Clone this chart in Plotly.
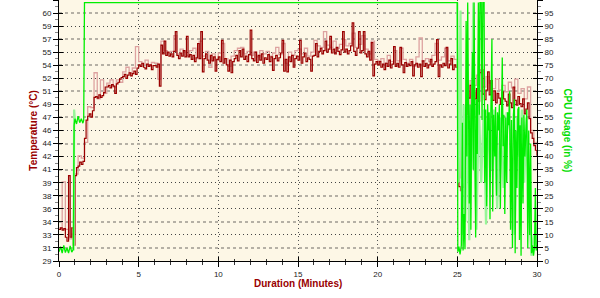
import numpy as np
import plotly.graph_objects as go

# ---------------- data ----------------
# Temperature (dark series), one value every 0.1 minute from 0.0 to 30.0
temp_dark = [
    33.0, 33.2, 32.9, 33.1, 32.0, 31.5, 39.8, 32.0, 33.2, 31.0,
    39.8, 40.8, 41.0, 41.5, 41.2, 41.6, 44.5, 46.8, 47.3, 47.6,
    47.2, 48.0, 49.7, 49.8, 49.6, 50.0, 49.7, 49.9, 50.3, 51.0,
    51.0, 51.2, 50.9, 51.3, 51.1, 50.2, 51.4, 51.6, 52.0, 52.2,
    52.3, 52.6, 52.1, 52.5, 52.8, 52.4, 52.7, 53.0, 52.6, 53.4,
    53.8, 53.6, 54.0, 53.5, 53.3, 53.9, 53.6, 53.8, 53.2, 53.7,
    53.7, 53.5, 53.9, 51.1, 56.3, 55.2, 56.8, 55.0, 55.4, 54.9,
    55.2, 54.8, 55.5, 58.0, 55.0, 54.6, 55.3, 54.9, 55.6, 54.8,
    57.4, 54.8, 55.1, 54.5, 55.0, 54.2, 54.7, 56.5, 54.6, 58.0,
    52.9, 54.6, 55.2, 54.4, 54.0, 55.0, 54.3, 54.8, 53.0, 54.5,
    54.8, 54.2, 56.9, 54.0, 54.6, 53.8, 53.0, 54.4, 52.8, 54.2,
    54.6, 55.0, 54.3, 55.6, 54.8, 55.8, 54.5, 54.9, 54.2, 55.1,
    58.2, 54.6, 54.3, 55.4, 54.1, 55.0, 54.4, 55.2, 54.0, 54.7,
    54.5, 55.1, 54.2, 54.8, 53.1, 54.6, 55.0, 54.3, 54.7, 55.3,
    56.9, 53.0, 54.5, 52.9, 54.8, 54.2, 55.0, 53.5, 54.6, 54.9,
    54.4, 56.9, 54.0, 54.8, 55.3, 54.2, 54.7, 54.5, 53.0, 54.9,
    55.0, 56.5, 54.8, 55.5, 55.9, 55.2, 55.6, 56.8, 55.4, 55.8,
    57.4, 55.3, 55.8, 55.2, 56.0, 55.5, 55.1, 55.7, 58.0, 55.4,
    55.8, 55.2, 55.6, 56.2, 59.1, 55.5, 55.0, 55.9, 58.0, 55.3,
    55.6, 58.0, 55.2, 54.8, 55.5, 54.4, 56.6, 52.4, 53.9, 54.2,
    53.8, 54.2, 53.5, 53.9, 53.2, 54.0, 53.6, 54.4, 53.4, 53.9,
    56.1, 53.6, 54.0, 53.5, 56.0, 53.8, 52.8, 54.1, 53.6, 53.9,
    53.7, 54.2, 52.4, 53.8, 54.0, 53.5, 53.9, 52.3, 54.3, 53.6,
    54.0, 53.4, 53.8, 54.5, 53.6, 53.9, 54.2, 57.0, 52.3, 53.8,
    53.5, 54.0, 53.7, 56.0, 53.4, 53.9, 54.6, 53.2, 53.8, 53.5,
    53.6, 38.4, 37.9, 39.0, 38.3, 47.5, 50.4, 49.6, 51.2, 49.8,
    50.3, 49.5, 50.8, 49.2, 52.8, 53.2, 50.1, 49.4, 50.6, 52.9,
    50.0, 51.8, 49.3, 50.5, 49.0, 50.2, 49.6, 48.8, 50.4, 49.5,
    49.2, 48.6, 50.1, 49.0, 48.4, 51.0, 49.3, 48.7, 49.8, 48.9,
    48.5, 49.5, 47.6, 48.2, 49.0, 47.0, 45.2, 44.5, 43.6, 43.0,
    42.3,
]

# Temperature (light series), one value every 0.2 minute from 0.0 to 30.0
temp_light = [
    33.2, 39.0, 33.0, 31.8, 32.4,
    40.0, 42.3, 42.0, 44.0, 48.5,
    48.4, 52.8, 49.5, 51.9, 50.2,
    51.5, 51.9, 51.0, 51.9, 51.6,
    52.9, 53.5, 52.8, 53.4, 56.1,
    54.2, 53.9, 54.4, 53.8, 54.1,
    54.0, 52.0, 56.8, 55.6, 55.3,
    55.5, 57.5, 55.2, 55.8, 55.4,
    55.0, 55.6, 55.9, 54.6, 56.8,
    54.9, 55.5, 53.5, 55.2, 54.4,
    55.3, 56.5, 54.6, 53.6, 54.9,
    55.6, 55.9, 56.0, 55.2, 55.5,
    55.0, 55.4, 54.8, 55.6, 55.2,
    55.5, 54.9, 55.3, 56.0, 55.1,
    56.5, 54.0, 55.4, 55.0, 55.6,
    55.8, 55.2, 55.9, 54.9, 55.4,
    56.9, 56.2, 56.0, 58.0, 56.3,
    56.0, 56.8, 55.9, 56.4, 57.0,
    56.2, 56.5, 57.8, 56.0, 56.4,
    57.5, 55.8, 55.2, 56.8, 54.5,
    54.3, 54.6, 54.0, 55.0, 54.2,
    55.6, 54.3, 55.9, 54.5, 54.0,
    54.5, 53.6, 54.8, 57.2, 54.3,
    54.6, 54.2, 55.0, 56.5, 54.4,
    54.8, 55.9, 54.3, 54.9, 54.5,
    54.0, 39.5, 39.0, 46.0, 51.8,
    51.2, 52.5, 53.8, 51.0, 52.3,
    51.5, 50.8, 52.0, 50.6, 51.2,
    50.4, 51.6, 50.9, 52.0, 50.2,
    50.8, 49.5, 51.0, 45.5, 44.0,
    43.2,
]

# CPU usage (bright series): time in minutes, usage in %
cpu_t = [
    0.0, 0.1, 0.2, 0.3, 0.4, 0.5, 0.6, 0.7, 0.8, 0.9,
    0.95, 1.0, 1.1, 1.2, 1.3, 1.4, 1.5, 1.55, 1.6,
    25.0, 25.03, 25.10, 25.17, 25.25, 25.32, 25.36, 25.42, 25.48, 25.55,
    25.60, 25.65, 25.70, 25.75, 25.80, 25.85, 25.90, 25.95, 26.00, 26.05,
    26.10, 26.15, 26.20, 26.25, 26.32, 26.38, 26.42, 26.50, 26.55, 26.60,
    26.68, 26.72, 26.78, 26.84, 26.90, 26.95, 27.00, 27.05, 27.10, 27.17,
    27.22, 27.28, 27.35, 27.40, 27.46, 27.52, 27.58, 27.64, 27.70, 27.76,
    27.82, 27.87, 27.92, 27.98, 28.04, 28.10, 28.16, 28.22, 28.28, 28.34,
    28.40, 28.46, 28.52, 28.58, 28.63, 28.68, 28.74, 28.80, 28.86, 28.90,
    28.95, 29.00, 29.05, 29.12, 29.18, 29.24, 29.30, 29.36, 29.42, 29.48,
    29.54, 29.60, 29.66, 29.72, 29.78, 29.84, 29.90, 29.95, 30.00,
]
cpu_v = [
    3.5, 5.5, 3.0, 6.0, 3.2, 5.0, 3.0, 5.8, 3.4, 4.5,
    52.0, 54.5, 52.5, 55.5, 53.0, 54.5, 52.8, 54.0, 99.0,
    99.0, 3.5, 5.5, 2.5, 6.0, 53.0, 4.0, 18.0, 4.5, 92.0,
    40.0, 99.0, 45.0, 22.0, 60.0, 12.0, 58.0, 80.0, 35.0, 99.0,
    55.0, 9.0, 62.0, 41.0, 99.0, 56.0, 99.0, 99.0, 54.0, 99.0,
    99.0, 30.0, 58.0, 21.0, 60.0, 50.0, 57.0, 16.0, 55.0, 85.0,
    19.0, 56.0, 40.0, 59.0, 25.0, 57.0, 50.0, 60.0, 20.0, 58.0,
    78.0, 44.0, 56.0, 18.0, 55.0, 30.0, 57.0, 52.0, 65.0, 12.0,
    54.0, 5.0, 56.0, 62.0, 3.0, 50.0, 28.0, 58.0, 59.0, 8.0,
    52.0, 2.0, 55.0, 22.0, 56.0, 40.0, 54.0, 58.0, 5.0, 50.0,
    10.0, 45.0, 3.0, 6.0, 2.0, 5.0, 28.0, 4.0, 6.0,
]

# CPU usage (light series); None marks a gap between recorded segments
cpu_light_t = [
    0.92, 0.95, 1.0, None,
    25.00, 25.02, 25.08, 25.20, 25.28, 25.40, 25.50, 25.62, 25.75, 25.90,
    26.00, 26.08, 26.20, 26.35, 26.50, 26.65, 26.80, 26.95, 27.10, 27.30,
    27.50, 27.70, 27.90, 28.10, 28.30, 28.45, 28.60, 28.75, 28.90, 29.05,
    29.20, 29.35, 29.50, 29.65, 29.80, 30.00,
]
cpu_light_v = [
    4.0, 58.0, 54.0, None,
    99.0, 60.0, 30.0, 96.0, 10.0, 60.0, 15.0, 55.0, 8.0, 45.0,
    99.0, 40.0, 12.0, 60.0, 30.0, 58.0, 14.0, 55.0, 35.0, 58.0,
    20.0, 55.0, 28.0, 57.0, 50.0, 25.0, 10.0, 55.0, 40.0, 58.0,
    30.0, 55.0, 18.0, 2.0, 10.0, 5.0,
]

temp_labels = ["29", "31", "33", "34", "36", "38", "39", "41", "42", "44", "46",
               "47", "49", "51", "52", "54", "55", "57", "59", "60", "62"]
temp_range = [29, 62]
cpu_range = [0, 100]
x_range = [0, 30]

# ---------------- figure ----------------
t_dark = np.round(np.arange(len(temp_dark)) * 0.1, 2)
t_light = np.round(np.arange(len(temp_light)) * 0.2, 2)
temp_tickvals = np.linspace(temp_range[0], temp_range[1], len(temp_labels))

DARK_RED = "#9A0000"
LIGHT_RED = "#DDA2A0"
GREEN = "#00EE00"
LIGHT_GREEN = "#98F598"
FONT = "Liberation Sans, Arial, sans-serif"

fig = go.Figure()

def dummy(xa, ya):
    fig.add_trace(go.Scatter(x=[None], y=[None], xaxis=xa, yaxis=ya,
                             showlegend=False, hoverinfo="skip"))

dummy("x", "y3")
dummy("x", "y4")
dummy("x", "y5")
dummy("x", "y6")
dummy("x2", "y")

fig.add_trace(go.Scatter(x=t_light, y=temp_light, mode="lines", line_shape="hv",
                         line=dict(color=LIGHT_RED, width=1.3), yaxis="y",
                         showlegend=False, hoverinfo="skip"))
fig.add_trace(go.Scatter(x=cpu_light_t, y=cpu_light_v, mode="lines",
                         line=dict(color=LIGHT_GREEN, width=2.2), yaxis="y2",
                         connectgaps=False, showlegend=False, hoverinfo="skip"))
fig.add_trace(go.Scatter(x=t_dark, y=temp_dark, mode="lines", line_shape="hv",
                         line=dict(color=DARK_RED, width=1.2), yaxis="y",
                         name="Temperature"))
fig.add_trace(go.Scatter(x=cpu_t, y=cpu_v, mode="lines",
                         line=dict(color=GREEN, width=1.3), yaxis="y2",
                         name="CPU Usage"))

tickfont = dict(family=FONT, size=8, color="#222")

fig.update_layout(
    width=600, height=298,
    margin=dict(l=59, r=63, t=0, b=37),
    paper_bgcolor="white",
    plot_bgcolor="#FDF7E6",
    showlegend=False,
    font=dict(family=FONT, size=8),
    xaxis=dict(range=x_range, tick0=0, dtick=5, ticks="outside", ticklen=5,
               tickcolor="black", showline=True, linecolor="black", linewidth=1,
               showgrid=True, gridcolor="#555", griddash="1px,3px", gridwidth=1,
               zeroline=False, tickfont=tickfont,
               minor=dict(dtick=1, ticks="outside", ticklen=3, tickcolor="#333",
                          showgrid=False)),
    xaxis2=dict(range=x_range, overlaying="x", tick0=0, dtick=5, ticks="inside",
                ticklen=4, tickcolor="black", showticklabels=False, showgrid=False,
                zeroline=False, showline=False,
                minor=dict(dtick=1, ticks="inside", ticklen=2, tickcolor="#333")),
    yaxis=dict(range=temp_range, tickmode="array", tickvals=temp_tickvals,
               ticktext=temp_labels, ticks="outside", ticklen=5, tickcolor="black",
               showline=True, linecolor="black", linewidth=1, showgrid=False,
               zeroline=False, tickfont=tickfont,
               minor=dict(tick0=temp_range[0] + 0.825, dtick=1.65, ticks="outside",
                          ticklen=3, tickcolor="#888", showgrid=False)),
    yaxis2=dict(range=cpu_range, overlaying="y", side="right", tick0=0, dtick=5,
                ticks="outside", ticklen=5, tickcolor="black", showline=True,
                linecolor="black", linewidth=1, showgrid=False, zeroline=False,
                tickfont=tickfont,
                minor=dict(dtick=2.5, ticks="outside", ticklen=3, tickcolor="#888",
                           showgrid=False)),
    yaxis3=dict(range=cpu_range, overlaying="y", tick0=0, dtick=10, showgrid=True,
                gridcolor="#444", griddash="1px,3px", gridwidth=1,
                showticklabels=False, ticks="", zeroline=False, showline=False),
    yaxis4=dict(range=cpu_range, overlaying="y", tick0=5, dtick=10, showgrid=True,
                gridcolor="#B5B0A5", griddash="3px,3px", gridwidth=1.5,
                showticklabels=False, ticks="", zeroline=False, showline=False),
    yaxis5=dict(range=cpu_range, overlaying="y", side="left", tick0=0, dtick=5,
                ticks="inside", ticklen=4, tickcolor="black", showticklabels=False,
                showgrid=False, zeroline=False, showline=False),
    yaxis6=dict(range=cpu_range, overlaying="y", side="right", tick0=0, dtick=5,
                ticks="inside", ticklen=4, tickcolor="black", showticklabels=False,
                showgrid=False, zeroline=False, showline=False),
    annotations=[
        dict(text="<b>Temperature (°C)</b>", xref="paper", yref="paper",
             x=-0.054, y=0.5, xanchor="center", yanchor="middle", textangle=-90,
             showarrow=False, font=dict(family=FONT, size=10, color="#990000")),
        dict(text="<b>CPU Usage (in %)</b>", xref="paper", yref="paper",
             x=1.063, y=0.5, xanchor="center", yanchor="middle", textangle=90,
             showarrow=False, font=dict(family=FONT, size=10, color="#00DD00")),
        dict(text="<b>Duration (Minutes)</b>", xref="paper", yref="paper",
             x=0.5, y=-0.088, xanchor="center", yanchor="middle",
             showarrow=False, font=dict(family=FONT, size=10, color="#990000")),
    ],
)

fig.write_html("out.html")
